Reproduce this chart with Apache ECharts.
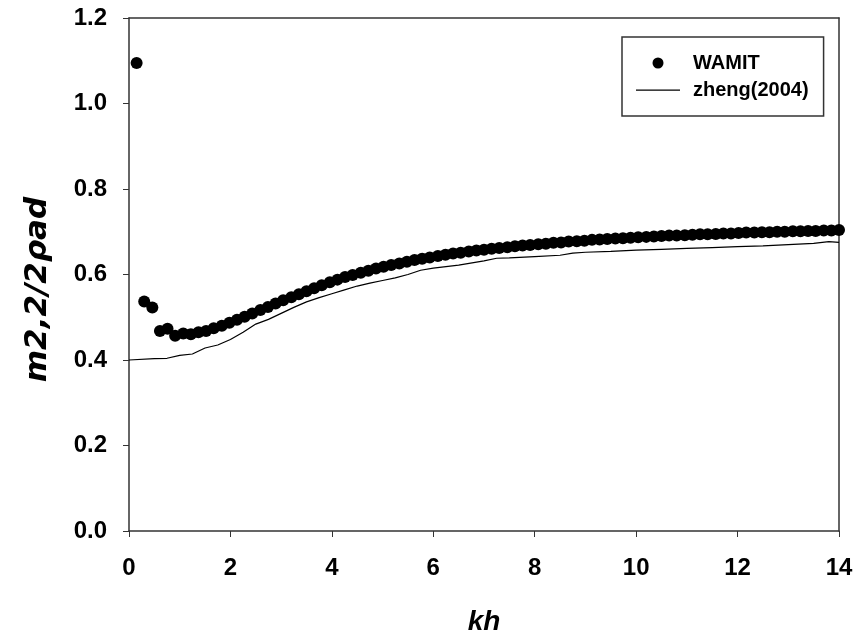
<!DOCTYPE html>
<html>
<head>
<meta charset="utf-8">
<script src="https://cdn.jsdelivr.net/npm/echarts@6/dist/echarts.min.js"></script>
<style>html,body{margin:0;padding:0;background:#fff}#c{width:860px;height:642px}</style>
</head>
<body>
<div id="c"></div>
<script>
var wamitKh = [0.15,0.30,0.46,0.61,0.76,0.91,1.07,1.22,1.37,1.52,1.67,1.83,1.98,2.13,2.28,2.43,2.59,2.74,2.89,3.04,3.20,3.35,3.50,3.65,3.80,3.96,4.11,4.26,4.41,4.57,4.72,4.87,5.02,5.17,5.33,5.48,5.63,5.78,5.93,6.09,6.24,6.39,6.54,6.70,6.85,7.00,7.15,7.30,7.46,7.61,7.76,7.91,8.07,8.22,8.37,8.52,8.67,8.83,8.98,9.13,9.28,9.43,9.59,9.74,9.89,10.04,10.20,10.35,10.50,10.65,10.80,10.96,11.11,11.26,11.41,11.57,11.72,11.87,12.02,12.17,12.33,12.48,12.63,12.78,12.93,13.09,13.24,13.39,13.54,13.70,13.85,14.00];
var wamitVal = [1.095,0.537,0.523,0.468,0.473,0.457,0.462,0.460,0.465,0.468,0.474,0.480,0.487,0.494,0.501,0.509,0.517,0.524,0.532,0.540,0.547,0.554,0.561,0.568,0.575,0.582,0.588,0.594,0.599,0.604,0.609,0.614,0.618,0.622,0.626,0.630,0.634,0.637,0.640,0.643,0.646,0.649,0.651,0.654,0.656,0.658,0.660,0.662,0.664,0.666,0.668,0.669,0.671,0.672,0.674,0.675,0.677,0.678,0.679,0.681,0.682,0.683,0.684,0.685,0.686,0.687,0.688,0.689,0.690,0.691,0.691,0.692,0.693,0.694,0.694,0.695,0.696,0.696,0.697,0.698,0.698,0.699,0.699,0.700,0.700,0.701,0.701,0.702,0.702,0.703,0.703,0.704];
var zhengKh = [0,0.5,0.75,1.0,1.25,1.5,1.75,2.0,2.25,2.5,2.75,3.0,3.25,3.5,3.75,4.0,4.25,4.5,4.75,5.0,5.25,5.5,5.75,6.0,6.5,7.0,7.25,7.5,8.0,8.5,8.75,9.0,9.5,10.0,10.5,11.0,11.5,12.0,12.5,13.0,13.5,13.8,14.0];
var zhengVal = [0.400,0.403,0.404,0.411,0.414,0.428,0.435,0.448,0.465,0.484,0.495,0.509,0.523,0.536,0.546,0.555,0.564,0.573,0.580,0.586,0.592,0.600,0.610,0.615,0.622,0.632,0.638,0.639,0.642,0.645,0.650,0.652,0.654,0.657,0.659,0.661,0.663,0.665,0.667,0.670,0.673,0.677,0.675];
var seriesNames = ['WAMIT','zheng(2004)'];

function pairs(xs, ys){ return xs.map(function(x,i){ return [x, ys[i]]; }); }

var FONT = '"Liberation Sans", Arial, sans-serif';
var NAMEFONT = '"DejaVu Sans", "Liberation Sans", sans-serif';
var AX = '#333';
var LINE_ICON = 'path://M0,0 L0.01,0 Z M0,5 L44,5 L44,6.2 L0,6.2 Z M0,11 L0.01,11 Z';
var chart = echarts.init(document.getElementById('c'), null, {renderer:'canvas'});
chart.setOption({
  animation: false,
  backgroundColor: '#fff',
  grid: {left: 129, right: 21, top: 18, bottom: 111, containLabel: false},
  legend: {
    data: [{name: seriesNames[0], icon: 'circle'}, {name: seriesNames[1], icon: LINE_ICON}],
    orient: 'vertical',
    left: 622, top: 37,
    padding: [16, 15, 16, 14],
    itemWidth: 44, itemHeight: 11, itemGap: 7,
    borderColor: AX, borderWidth: 1.5, borderRadius: 0,
    backgroundColor: '#fff',
    textStyle: {fontFamily: FONT, fontWeight: 'bold', fontSize: 20, color: '#000', padding: [0,0,0,8]}
  },
  xAxis: [{
    type: 'value', min: 0, max: 14, interval: 2,
    name: 'kh', nameLocation: 'middle', nameGap: 77,
    nameTextStyle: {fontFamily: FONT, fontWeight: 'bold', fontStyle: 'italic', fontSize: 28, color: '#000'},
    axisLine: {show: true, onZero: false, lineStyle: {color: AX, width: 1.5}},
    axisTick: {show: true, inside: false, length: 6, lineStyle: {color: AX, width: 1}},
    axisLabel: {margin: 25, fontFamily: FONT, fontWeight: 'bold', fontSize: 24, color: '#000'},
    splitLine: {show: false}
  }, {
    type: 'value', min: 0, max: 14, position: 'top',
    axisLine: {show: true, onZero: false, lineStyle: {color: AX, width: 1.5}},
    axisTick: {show: false}, axisLabel: {show: false}, splitLine: {show: false}
  }],
  yAxis: [{
    type: 'value', min: 0, max: 1.2, interval: 0.2,
    name: '{i|m}{n|2,2/2}{i|ρad}', nameLocation: 'middle', nameGap: 76, nameRotate: 90,
    nameTextStyle: {
      fontFamily: NAMEFONT, fontWeight: 'bold', fontSize: 31, color: '#000',
      padding: [0, 30, 0, 0],
      rich: {
        i: {fontFamily: NAMEFONT, fontWeight: 'bold', fontStyle: 'italic', fontSize: 31, color: '#000'},
        n: {fontFamily: NAMEFONT, fontWeight: 'bold', fontStyle: 'italic', fontSize: 31, color: '#000'}
      }
    },
    axisLine: {show: true, onZero: false, lineStyle: {color: AX, width: 1.5}},
    axisTick: {show: true, inside: false, length: 6, lineStyle: {color: AX, width: 1}},
    axisLabel: {margin: 22, fontFamily: FONT, fontWeight: 'bold', fontSize: 24, color: '#000',
      formatter: function(v){ return v.toFixed(1); }},
    splitLine: {show: false}
  }, {
    type: 'value', min: 0, max: 1.2, position: 'right',
    axisLine: {show: true, onZero: false, lineStyle: {color: AX, width: 1.5}},
    axisTick: {show: false}, axisLabel: {show: false}, splitLine: {show: false}
  }],
  series: [{
    name: seriesNames[0], type: 'scatter', xAxisIndex: 0, yAxisIndex: 0,
    data: pairs(wamitKh, wamitVal), symbol: 'circle', symbolSize: 12,
    itemStyle: {color: '#000', opacity: 1}, z: 3
  }, {
    name: seriesNames[1], type: 'line', xAxisIndex: 0, yAxisIndex: 0,
    data: pairs(zhengKh, zhengVal), showSymbol: false, symbol: 'none',
    lineStyle: {color: '#000', width: 1.2}, itemStyle: {color: '#000'}, z: 2
  }]
});
</script>
</body>
</html>
